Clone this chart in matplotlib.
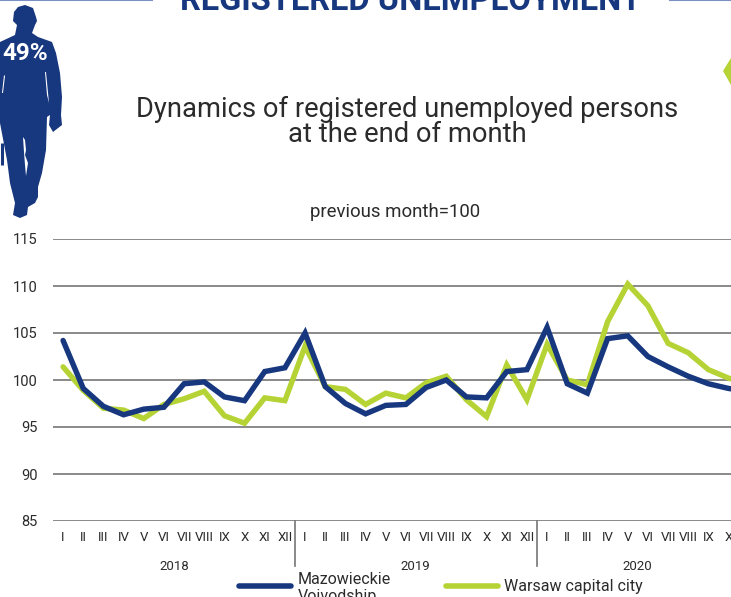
import matplotlib
matplotlib.use("Agg")
import matplotlib.pyplot as plt
from matplotlib.patches import Polygon

plt.rcParams['font.family'] = ['Roboto', 'DejaVu Sans']

months = ["I", "II", "III", "IV", "V", "VI", "VII", "VIII", "IX", "X", "XI", "XII"]
month_labels = months + months + months[:10]
years = ["2018", "2019", "2020"]
year_positions = [5.5, 17.45, 28.45]
year_breaks = [11.5, 23.5]

mazowieckie = [104.2, 99.1, 97.2, 96.3, 96.9, 97.1, 99.6, 99.8, 98.2, 97.8, 100.9, 101.3,
               105.0, 99.3, 97.5, 96.4, 97.3, 97.4, 99.2, 100.0, 98.2, 98.1, 100.9, 101.1,
               105.6, 99.6, 98.6, 104.4, 104.7, 102.5, 101.4, 100.4, 99.6, 99.1, 98.8]
warsaw = [101.4, 98.9, 97.0, 96.8, 95.9, 97.4, 98.0, 98.8, 96.2, 95.4, 98.1, 97.8,
          103.6, 99.3, 99.0, 97.4, 98.6, 98.1, 99.7, 100.4, 97.9, 96.1, 101.6, 97.9,
          103.8, 100.0, 99.5, 106.2, 110.2, 107.9, 103.9, 102.9, 101.1, 100.2, 99.6]

# silhouette outline in image pixels, only decoration
man_outline = [(25, 5), (33, 8), (36, 17), (37, 21), (35, 25), (32, 33), (38, 37), (52, 42), (56, 53),
               (60, 73), (62, 97), (61, 115), (62, 125), (53, 132), (49, 125), (50, 115), (47, 117),
               (46, 150), (42, 173), (38, 187), (38, 197), (35, 203), (28, 207), (27, 215), (20, 218),
               (13, 215), (15, 203), (10, 183), (7, 160), (0, 123), (0, 42), (15, 35), (17, 25),
               (13, 21), (14, 12), (18, 7)]
man_gaps = [[(45, 72), (46, 72), (49, 103), (47, 95)],
            [(4, 75), (5, 76), (3, 93), (2, 93)],
            [(23, 137), (25, 140), (26, 150), (25, 155), (28, 163), (26, 176), (25, 165), (24, 152)]]
diamond = [(731, 58), (723, 71), (731, 85)]

BLUE = "#17377f"
GREEN = "#b5d334"
TEXT = "#2b2b2b"
GRID = "#757575"

fig = plt.figure(figsize=(7.31, 5.97), dpi=100)
W, H = 731, 597

ax = fig.add_axes([53 / W, 1 - 521 / H, (731 - 53) / W, (521 - 239) / H])
ax.set_xlim(-0.5, 33.12)
ax.set_ylim(85, 115)
ax.set_yticks(range(85, 116, 5))
ax.set_xticks(range(len(month_labels)))
ax.set_xticklabels(month_labels, fontsize=9.5, color=TEXT)
ax.tick_params(axis="both", length=0)
ax.tick_params(axis="y", labelsize=10.5, labelcolor=TEXT, pad=11)
ax.tick_params(axis="x", pad=7.5)
ax.grid(True, axis="y", color=GRID, linewidth=1.2)
ax.set_axisbelow(True)
for side in ax.spines:
    ax.spines[side].set_visible(False)

ax.plot(range(len(warsaw)), warsaw, color=GREEN, linewidth=3.9, solid_joinstyle="miter", solid_capstyle="round")
ax.plot(range(len(mazowieckie)), mazowieckie, color=BLUE, linewidth=3.9, solid_joinstyle="miter", solid_capstyle="round")

trans = ax.get_xaxis_transform()
for b in year_breaks:
    ax.plot([b, b], [0, -45 / 282], transform=trans, color=GRID, linewidth=1.2, clip_on=False)
for pos, year in zip(year_positions, years):
    ax.text(pos, -45 / 282, year, transform=trans, ha="center", va="center", fontsize=9.5, color=TEXT)

# overlay in pixel coordinates for header, silhouette and legend
over = fig.add_axes([0, 0, 1, 1], facecolor="none")
over.set_xlim(0, W)
over.set_ylim(H, 0)
over.axis("off")

over.plot([0, 152], [0, 0], color="#7a90c4", linewidth=1.5)
over.plot([670, 731], [0, 0], color="#7a90c4", linewidth=1.5)
over.text(411, 10, "REGISTERED UNEMPLOYMENT", ha="center", va="baseline", fontsize=23.5,
          fontweight="bold", color=BLUE)
over.add_patch(Polygon(man_outline, closed=True, facecolor=BLUE, edgecolor="none"))
for gap in man_gaps:
    over.add_patch(Polygon(gap, closed=True, facecolor="white", edgecolor="none"))
over.add_patch(Polygon(diamond, closed=True, facecolor=GREEN, edgecolor="none"))
over.plot([1.5, 1.5], [143, 165], color=BLUE, linewidth=2.2, solid_capstyle="butt")
over.text(25, 54, "49%", ha="center", va="center", fontsize=17.5, fontweight="bold", color="white")

over.text(407, 109, "Dynamics of registered unemployed persons", ha="center", va="center",
          fontsize=19.7, color=TEXT)
over.text(407, 134, "at the end of month", ha="center", va="center", fontsize=19.7, color=TEXT)
over.text(395, 212, "previous month=100", ha="center", va="center", fontsize=13.4, color=TEXT)

over.plot([239, 291], [586, 586], color=BLUE, linewidth=4, solid_capstyle="round")
over.text(298, 579, "Mazowieckie", ha="left", va="center", fontsize=11.5, color=TEXT)
over.text(298, 597, "Voivodship", ha="left", va="center", fontsize=11.5, color=TEXT)
over.plot([446, 498], [586, 586], color=GREEN, linewidth=4, solid_capstyle="round")
over.text(504, 586, "Warsaw capital city", ha="left", va="center", fontsize=11.5, color=TEXT)

fig.savefig("out.png", dpi=100)
